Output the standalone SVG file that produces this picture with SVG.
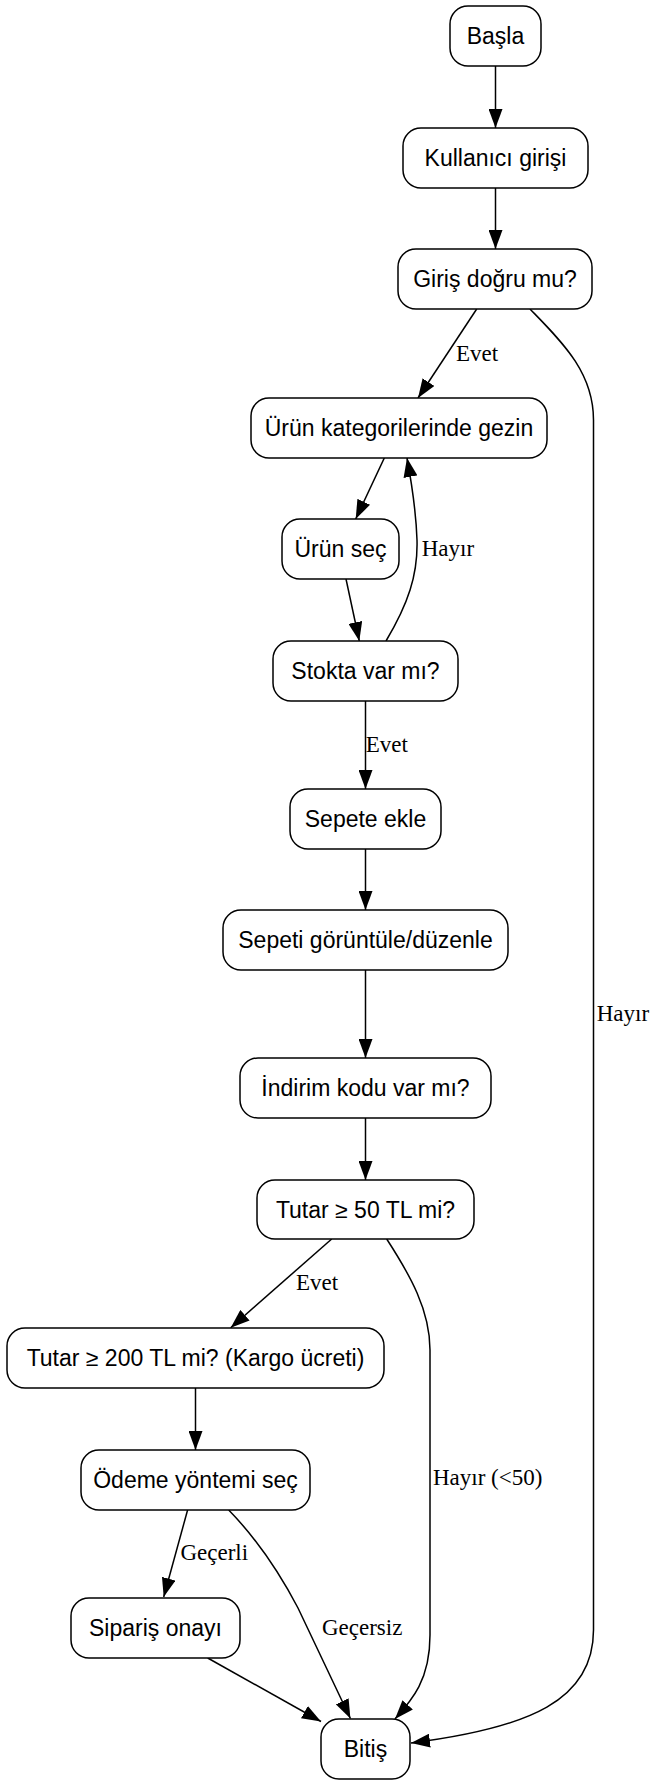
<svg xmlns="http://www.w3.org/2000/svg" width="658" height="1786" viewBox="0 0 658 1786">
<defs>
<style>
.n rect{fill:#fff;stroke:#000;stroke-width:1.5}
.n text{font-family:"Liberation Sans",Arial,sans-serif;font-size:23px;text-anchor:middle;fill:#000}
.e path{fill:none;stroke:#000;stroke-width:1.5;marker-end:url(#ah)}
.l{font-family:"Liberation Serif","Times New Roman",serif;font-size:23px;fill:#000}
</style>
<marker id="ah" markerUnits="userSpaceOnUse" markerWidth="20" markerHeight="14" refX="19" refY="7" orient="auto" viewBox="0 0 20 14">
<path d="M0,0 L19,7 L0,14 z" fill="#000"/>
</marker>
</defs>
<rect width="658" height="1786" fill="#fff"/>
<g id="connectors" class="e">
<path d="M495.5,66 L495.5,128"/>
<path d="M495.5,188 L495.5,249"/>
<path d="M476.7,309 L418,398"/>
<path d="M530,309 C562,342 593.5,372 593.5,420 L593.5,1630 C593.5,1700 530,1728 411,1743"/>
<path d="M384.3,458 L355.7,519"/>
<path d="M346,579 L359.3,641"/>
<path d="M386,641 C408,604 418,575 417,540 C416,510 412,485 407,458"/>
<path d="M365.5,701 L365.5,789"/>
<path d="M365.5,849 L365.5,910"/>
<path d="M365.5,970 L365.5,1058"/>
<path d="M365.5,1118 L365.5,1180"/>
<path d="M331.7,1239 L230.7,1327.7"/>
<path d="M386.7,1239 C410,1275 430,1310 430,1350 L430,1635 C430,1680 412,1700 395,1719"/>
<path d="M195.5,1388 L195.5,1450"/>
<path d="M187.6,1510 L163.7,1597"/>
<path d="M228.7,1510 C255,1537 278,1570 298,1608 L350.4,1718.5"/>
<path d="M207.7,1658 L321,1721.5"/>
<text class="l" x="456" y="361">Evet</text>
<text class="l" x="421.7" y="556">Hayır</text>
<text class="l" x="365.7" y="752">Evet</text>
<text class="l" x="596.7" y="1021">Hayır</text>
<text class="l" x="296" y="1290">Evet</text>
<text class="l" x="433" y="1485">Hayır (&lt;50)</text>
<text class="l" x="180.4" y="1560">Geçerli</text>
<text class="l" x="321.9" y="1635">Geçersiz</text>
</g>
<g id="basla" class="n"><rect x="450" y="6" width="91" height="60" rx="18"/><text x="495.5" y="44">Başla</text></g>
<g id="kullanici" class="n"><rect x="403" y="128" width="185" height="60" rx="18"/><text x="495.5" y="166">Kullanıcı girişi</text></g>
<g id="giris" class="n"><rect x="398" y="249" width="194" height="60" rx="18"/><text x="495" y="287">Giriş doğru mu?</text></g>
<g id="kategori" class="n"><rect x="251" y="398" width="296" height="60" rx="18"/><text x="399" y="436">Ürün kategorilerinde gezin</text></g>
<g id="urunsec" class="n"><rect x="282" y="519" width="117" height="60" rx="18"/><text x="340.5" y="557">Ürün seç</text></g>
<g id="stok" class="n"><rect x="273" y="641" width="185" height="60" rx="18"/><text x="365.5" y="679">Stokta var mı?</text></g>
<g id="sepete" class="n"><rect x="290" y="789" width="151" height="60" rx="18"/><text x="365.5" y="827">Sepete ekle</text></g>
<g id="sepeti" class="n"><rect x="223" y="910" width="285" height="60" rx="18"/><text x="365.5" y="948">Sepeti görüntüle/düzenle</text></g>
<g id="indirim" class="n"><rect x="240" y="1058" width="251" height="60" rx="18"/><text x="365.5" y="1096">İndirim kodu var mı?</text></g>
<g id="tutar50" class="n"><rect x="257" y="1180" width="217" height="59" rx="18"/><text x="365.5" y="1218">Tutar ≥ 50 TL mi?</text></g>
<g id="tutar200" class="n"><rect x="7" y="1328" width="377" height="60" rx="18"/><text x="195.5" y="1366">Tutar ≥ 200 TL mi? (Kargo ücreti)</text></g>
<g id="odeme" class="n"><rect x="81" y="1450" width="229" height="60" rx="18"/><text x="195.5" y="1488">Ödeme yöntemi seç</text></g>
<g id="siparis" class="n"><rect x="71" y="1598" width="169" height="60" rx="18"/><text x="155.5" y="1636">Sipariş onayı</text></g>
<g id="bitis" class="n"><rect x="321" y="1719" width="89" height="60" rx="18"/><text x="365.5" y="1757">Bitiş</text></g>
</svg>
